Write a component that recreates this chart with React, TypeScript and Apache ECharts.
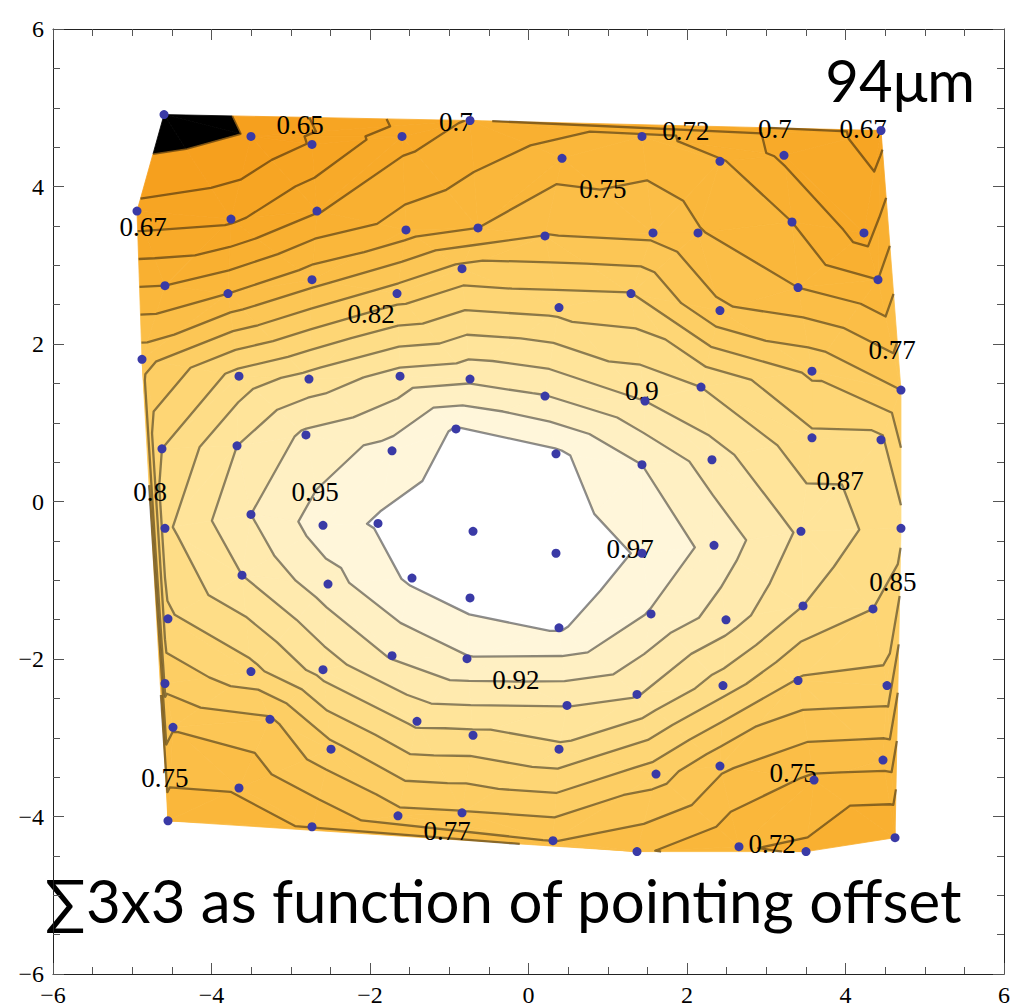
import React, { useEffect, useRef } from "react";
import * as echarts from "echarts";

// Pointing grid rows: [x offset, y offset, Σ3x3 value]
const rowA = [
  [-4.599, 4.913, 0.603], [-3.502, 4.636, 0.628], [-2.732, 4.534, 0.652], [-1.596, 4.636, 0.69],
  [-0.738, 4.838, 0.702], [0.423, 4.358, 0.737], [1.432, 4.636, 0.735], [2.416, 4.32, 0.728],
  [3.224, 4.396, 0.695], [4.448, 4.711, 0.665],
];
const rowB = [
  [-4.94, 3.688, 0.657], [-3.754, 3.587, 0.67], [-2.669, 3.688, 0.698], [-1.546, 3.448, 0.738],
  [-0.637, 3.474, 0.75], [0.208, 3.372, 0.776], [1.571, 3.41, 0.768], [2.139, 3.41, 0.752],
  [3.325, 3.549, 0.725], [4.233, 3.41, 0.69],
];
const rowC = [
  [-4.587, 2.741, 0.725], [-3.792, 2.64, 0.75], [-2.732, 2.817, 0.765], [-1.659, 2.64, 0.812],
  [-0.839, 2.956, 0.808], [0.385, 2.463, 0.841], [1.293, 2.64, 0.826], [2.416, 2.425, 0.78],
  [3.401, 2.716, 0.75], [4.41, 2.817, 0.725],
];
const rowD = [
  [-4.877, 1.806, 0.79], [-3.653, 1.592, 0.86], [-2.77, 1.554, 0.885], [-1.621, 1.592, 0.91],
  [-0.738, 1.554, 0.92], [0.208, 1.339, 0.926], [1.47, 1.276, 0.9], [2.177, 1.453, 0.875],
  [3.577, 1.655, 0.82], [4.7, 1.415, 0.8],
];
const rowE = [
  [-4.625, 0.669, 0.85], [-3.678, 0.707, 0.9], [-2.808, 0.846, 0.93], [-1.722, 0.644, 0.96],
  [-0.915, 0.922, 0.977], [0.347, 0.606, 0.98], [1.432, 0.467, 0.95], [2.315, 0.53, 0.913],
  [3.577, 0.808, 0.855], [4.448, 0.783, 0.855],
];
const rowF = [
  [-4.587, -0.341, 0.87], [-3.502, -0.164, 0.925], [-2.593, -0.303, 0.963], [-1.899, -0.278, 0.978],
  [-0.7, -0.379, 1.0], [0.347, -0.657, 0.995], [1.432, -0.657, 0.972], [2.341, -0.556, 0.942],
  [3.438, -0.379, 0.896], [4.7, -0.341, 0.86],
];
const rowG = [
  [-4.549, -1.49, 0.845], [-3.615, -0.935, 0.9], [-2.53, -1.048, 0.94], [-1.47, -0.973, 0.98],
  [-0.738, -1.225, 0.985], [0.385, -1.604, 0.978], [1.546, -1.427, 0.948], [2.492, -1.503, 0.912],
  [3.464, -1.326, 0.875], [4.347, -1.364, 0.85],
];
const rowH = [
  [-4.587, -2.311, 0.807], [-3.502, -2.16, 0.842], [-2.593, -2.135, 0.885], [-1.722, -1.958, 0.928],
  [-0.776, -1.996, 0.948], [0.486, -2.589, 0.901], [1.369, -2.45, 0.902], [2.454, -2.337, 0.862],
  [3.401, -2.274, 0.823], [4.524, -2.337, 0.816],
];
const rowI = [
  [-4.486, -2.867, 0.777], [-3.262, -2.766, 0.797], [-2.492, -3.145, 0.817], [-1.407, -2.791, 0.881],
  [-0.7, -2.968, 0.869], [0.385, -3.145, 0.87], [1.609, -3.461, 0.811], [2.416, -3.36, 0.78],
  [3.603, -3.537, 0.745], [4.473, -3.284, 0.758],
];
const rowJ = [
  [-4.549, -4.055, 0.735], [-3.653, -3.638, 0.752], [-2.732, -4.13, 0.752], [-1.647, -3.991, 0.792],
  [-0.839, -3.953, 0.798], [0.309, -4.307, 0.776], [1.369, -4.446, 0.755], [2.656, -4.383, 0.727],
  [3.502, -4.446, 0.72], [4.625, -4.269, 0.7],
];

const levels = [0.625, 0.65, 0.675, 0.7, 0.725, 0.75, 0.775, 0.8, 0.825, 0.85, 0.875, 0.9, 0.925, 0.95, 0.975];

const bandColors = [
  "#000000", "#F6A01E", "#F7A523", "#F8AA29", "#F9B031", "#FAB73B", "#FBBE47", "#FCC655",
  "#FDCE64", "#FED675", "#FEDD87", "#FFE49A", "#FFEAAE", "#FFF0C3", "#FFF6DA", "#FFFFFF",
];

const labelText = ["0.65", "0.7", "0.72", "0.7", "0.67", "0.75", "0.67", "0.82", "0.77", "0.9",
  "0.8", "0.95", "0.87", "0.97", "0.85", "0.92", "0.75", "0.75", "0.77", "0.72"];
const labelX = [-2.883, -0.915, 1.987, 3.11, 4.221, 0.94, -4.864, -1.987, 4.587, 1.432,
  -4.776, -2.694, 3.931, 1.281, 4.599, -0.158, -4.587, 3.338, -1.028, 3.073];
const labelY = [4.787, 4.825, 4.699, 4.724, 4.724, 3.966, 3.486, 2.375, 1.92, 1.402,
  0.126, 0.126, 0.265, -0.606, -1.023, -2.261, -3.511, -3.448, -4.181, -4.345];

const titleText = "94\u03bcm";
const captionText = "\u22113x3 as function of pointing offset";

type VP = { x: number; y: number; v: number };

function triangulate(P: number[][]): number[][] {
  const n = P.length;
  const big = 1e4;
  const V = P.map((p) => [p[0], p[1]]);
  V.push([-big, -big], [big, -big], [0, big]);
  type T = { a: number; b: number; c: number; x: number; y: number; r2: number };
  const mk = (a: number, b: number, c: number): T => {
    const ax = V[a][0], ay = V[a][1], bx = V[b][0], by = V[b][1], cx = V[c][0], cy = V[c][1];
    const d = 2 * (ax * (by - cy) + bx * (cy - ay) + cx * (ay - by));
    const a2 = ax * ax + ay * ay, b2 = bx * bx + by * by, c2 = cx * cx + cy * cy;
    const x = (a2 * (by - cy) + b2 * (cy - ay) + c2 * (ay - by)) / d;
    const y = (a2 * (cx - bx) + b2 * (ax - cx) + c2 * (bx - ax)) / d;
    return { a, b, c, x, y, r2: (ax - x) * (ax - x) + (ay - y) * (ay - y) };
  };
  let tris: T[] = [mk(n, n + 1, n + 2)];
  for (let i = 0; i < n; i++) {
    const px = V[i][0], py = V[i][1];
    const keep: T[] = [];
    const edges: number[][] = [];
    for (const t of tris) {
      if ((px - t.x) * (px - t.x) + (py - t.y) * (py - t.y) < t.r2) {
        edges.push([t.a, t.b], [t.b, t.c], [t.c, t.a]);
      } else keep.push(t);
    }
    const count = new Map<string, number>();
    const key = (u: number, v: number) => (u < v ? u + "_" + v : v + "_" + u);
    for (const e of edges) count.set(key(e[0], e[1]), (count.get(key(e[0], e[1])) || 0) + 1);
    for (const e of edges) if (count.get(key(e[0], e[1])) === 1) keep.push(mk(e[0], e[1], i));
    tris = keep;
  }
  return tris.filter((t) => t.a < n && t.b < n && t.c < n).map((t) => [t.a, t.b, t.c]);
}

function clipPoly(poly: VP[], level: number, keepAbove: boolean): VP[] {
  const out: VP[] = [];
  for (let i = 0; i < poly.length; i++) {
    const a = poly[i], b = poly[(i + 1) % poly.length];
    const ina = keepAbove ? a.v >= level : a.v <= level;
    const inb = keepAbove ? b.v >= level : b.v <= level;
    if (ina) out.push(a);
    if (ina !== inb) {
      const t = (level - a.v) / (b.v - a.v);
      out.push({ x: a.x + t * (b.x - a.x), y: a.y + t * (b.y - a.y), v: level });
    }
  }
  return out;
}

function buildOption() {
  const rows = [rowA, rowB, rowC, rowD, rowE, rowF, rowG, rowH, rowI, rowJ];
  const pts = rows.flat();
  const P = pts.map((p) => [p[0], p[1]]);
  const vals = pts.map((p) => p[2] + 1e-7);
  const tris = triangulate(P);

  // filled bands
  const fills: { band: number; pts: number[][] }[] = [];
  for (const tr of tris) {
    const tri: VP[] = tr.map((q) => ({ x: P[q][0], y: P[q][1], v: vals[q] }));
    const vmin = Math.min(tri[0].v, tri[1].v, tri[2].v);
    const vmax = Math.max(tri[0].v, tri[1].v, tri[2].v);
    for (let b = 0; b <= levels.length; b++) {
      const lo = b === 0 ? -Infinity : levels[b - 1];
      const hi = b === levels.length ? Infinity : levels[b];
      if (vmax < lo || vmin > hi) continue;
      let poly = tri;
      if (lo > -Infinity) poly = clipPoly(poly, lo, true);
      if (poly.length >= 3 && hi < Infinity) poly = clipPoly(poly, hi, false);
      if (poly.length >= 3) fills.push({ band: b, pts: poly.map((p) => [p.x, p.y]) });
    }
  }

  // contour lines
  const lines: number[][][] = [];
  for (const L of levels) {
    const segs: { k1: string; k2: string }[] = [];
    const ptOf = new Map<string, number[]>();
    for (const tr of tris) {
      const cross: string[] = [];
      const E = [[tr[0], tr[1]], [tr[1], tr[2]], [tr[2], tr[0]]];
      for (const [a, b] of E) {
        const va = vals[a] - L, vb = vals[b] - L;
        if ((va < 0) !== (vb < 0)) {
          const k = a < b ? a + "_" + b : b + "_" + a;
          if (!ptOf.has(k)) {
            const t = va / (va - vb);
            ptOf.set(k, [P[a][0] + t * (P[b][0] - P[a][0]), P[a][1] + t * (P[b][1] - P[a][1])]);
          }
          cross.push(k);
        }
      }
      if (cross.length === 2) segs.push({ k1: cross[0], k2: cross[1] });
    }
    const adj = new Map<string, number[]>();
    segs.forEach((s, i) => {
      if (!adj.has(s.k1)) adj.set(s.k1, []);
      if (!adj.has(s.k2)) adj.set(s.k2, []);
      adj.get(s.k1)!.push(i);
      adj.get(s.k2)!.push(i);
    });
    const used = new Array(segs.length).fill(false);
    const walk = (startIdx: number, startKey: string) => {
      const line = [ptOf.get(startKey)!];
      let k = startKey;
      let idx = startIdx;
      while (idx !== -1 && !used[idx]) {
        used[idx] = true;
        const s = segs[idx];
        const nk = s.k1 === k ? s.k2 : s.k1;
        line.push(ptOf.get(nk)!);
        k = nk;
        const c = adj.get(k)!.find((q) => !used[q]);
        idx = c === undefined ? -1 : c;
      }
      return line;
    };
    adj.forEach((list, k) => {
      if (list.length === 1 && !used[list[0]]) lines.push(walk(list[0], k));
    });
    for (let i = 0; i < segs.length; i++) if (!used[i]) lines.push(walk(i, segs[i].k1));
  }

  const fmt = (v: number) => (v < 0 ? "\u2212" + -v : String(v));
  const axisCommon = {
    type: "value" as const,
    min: -6,
    max: 6,
    interval: 2,
    splitLine: { show: false },
    axisLine: { show: true, onZero: false, lineStyle: { color: "#222", width: 1 } },
    axisTick: { show: true, inside: true, length: 11, lineStyle: { color: "#555", width: 1 } },
    minorTick: { show: true, splitNumber: 4, length: 7, lineStyle: { color: "#555", width: 1 } },
  };
  const labelStyle = {
    show: true,
    fontFamily: "Liberation Serif",
    fontSize: 24,
    color: "#000",
    margin: 9,
    formatter: fmt,
    showMinLabel: true,
    showMaxLabel: true,
  };

  return {
    animation: false,
    backgroundColor: "#fff",
    grid: { left: 53, right: 9, top: 29, bottom: 28, containLabel: false },
    xAxis: [
      { ...axisCommon, position: "bottom", axisLabel: labelStyle },
      { ...axisCommon, position: "top", axisLabel: { show: false } },
    ],
    yAxis: [
      { ...axisCommon, position: "left", axisLabel: labelStyle },
      { ...axisCommon, position: "right", axisLabel: { show: false } },
    ],
    series: [
      {
        type: "custom",
        coordinateSystem: "cartesian2d",
        silent: true,
        data: [[0, 0]],
        renderItem: (_params: any, api: any) => ({
          type: "group",
          children: fills.map((f) => ({
            type: "polygon",
            shape: { points: f.pts.map((p) => api.coord(p)) },
            style: { fill: bandColors[f.band], stroke: bandColors[f.band], lineWidth: 0.8 },
          })),
        }),
      },
      {
        type: "custom",
        coordinateSystem: "cartesian2d",
        silent: true,
        data: [[0, 0]],
        renderItem: (_params: any, api: any) => ({
          type: "group",
          children: lines.map((l) => ({
            type: "polyline",
            shape: { points: l.map((p) => api.coord(p)) },
            style: { fill: null, stroke: "rgba(0,0,0,0.45)", lineWidth: 2.3, lineJoin: "round" },
          })),
        }),
      },
      {
        type: "custom",
        coordinateSystem: "cartesian2d",
        silent: true,
        data: labelText.map((t, i) => [labelX[i], labelY[i]]),
        renderItem: (params: any, api: any) => {
          const c = api.coord([api.value(0), api.value(1)]);
          return {
            type: "text",
            x: c[0],
            y: c[1],
            style: {
              text: labelText[params.dataIndex],
              fill: "#000",
              font: '27px "Liberation Serif"',
              align: "center",
              verticalAlign: "middle",
            },
          };
        },
      },
      {
        type: "scatter",
        silent: true,
        symbol: "circle",
        symbolSize: 9,
        itemStyle: { color: "#3a3aa6", opacity: 1 },
        data: P,
      },
    ],
    graphic: [
      {
        type: "text",
        right: 38,
        top: 50,
        style: { text: titleText, fill: "#000", font: '58px Lato, "Open Sans", sans-serif' },
      },
      {
        type: "text",
        left: 45,
        top: 870,
        style: { text: captionText, fill: "#000", font: '60px Lato, "Open Sans", sans-serif' },
      },
    ],
  };
}

export default function App() {
  const ref = useRef<HTMLDivElement>(null);
  useEffect(() => {
    const chart = echarts.init(ref.current!, undefined, { renderer: "svg" });
    chart.setOption(buildOption() as any);
    return () => chart.dispose();
  }, []);
  return (
    <div
      ref={ref}
      style={{ position: "absolute", left: 0, top: 0, width: 1013, height: 1007, background: "#fff" }}
    />
  );
}
